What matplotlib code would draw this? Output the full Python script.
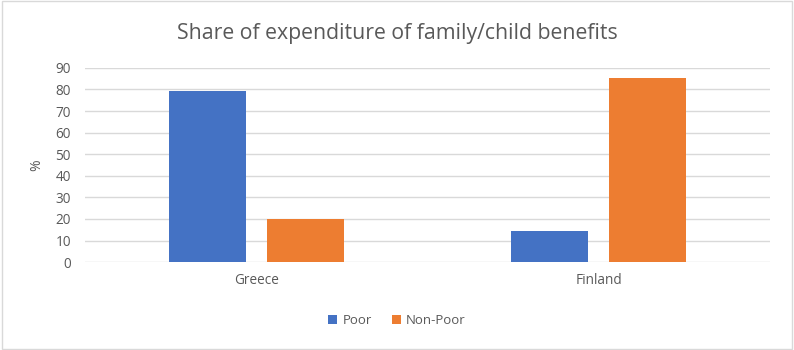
import numpy as np
import matplotlib
matplotlib.use("Agg")
import matplotlib.pyplot as plt
from matplotlib.patches import Rectangle

countries = ["Greece", "Finland"]
poor = [79.4, 14.4]
non_poor = [19.9, 85.4]
yticks = list(range(0, 91, 10))

plt.rcParams['font.family'] = ['Open Sans', 'DejaVu Sans']
txt = '#595959'

fig = plt.figure(figsize=(7.94, 3.5), dpi=100)
fig.patches.append(Rectangle((0.002, 0.003), 0.995, 0.993, transform=fig.transFigure,
                             fill=False, edgecolor='#d9d9d9', linewidth=1))
ax = fig.add_axes([0.107, 0.251, 0.863, 0.555])

x = np.arange(len(countries))
w = 0.225
off = 0.143
ax.bar(x - off, poor, w, color='#4472C4', label='Poor', zorder=3)
ax.bar(x + off, non_poor, w, color='#ED7D31', label='Non-Poor', zorder=3)

ax.set_xlim(-0.5, 1.5)
ax.set_ylim(0, 90)
ax.set_yticks(yticks)
ax.set_xticks(x)
ax.set_xticklabels(countries)
ax.yaxis.grid(True, color='#d9d9d9', linewidth=1, zorder=0)
ax.tick_params(length=0, colors=txt, labelsize=9.8)
ax.tick_params(axis='x', pad=8)
ax.tick_params(axis='y', pad=10)
for s in ax.spines.values():
    s.set_visible(False)
ax.set_ylabel('%', color=txt, fontsize=10, labelpad=8)

fig.text(0.5, 0.905, 'Share of expenditure of family/child benefits', ha='center', va='center',
         fontsize=15.3, color=txt)
ax.legend(loc='center', bbox_to_anchor=(0.5, 0.085), bbox_transform=fig.transFigure, ncol=2,
          frameon=False, fontsize=9.5, labelcolor=txt, handlelength=0.7, handleheight=0.7,
          columnspacing=1.5, handletextpad=0.4)

fig.savefig('out.png', dpi=100)
